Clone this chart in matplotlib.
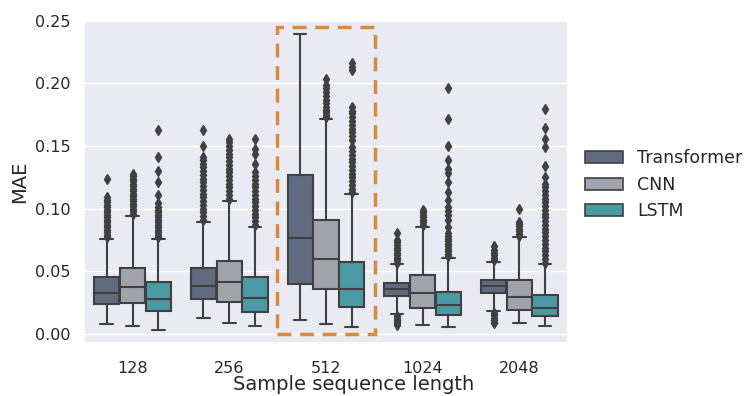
import matplotlib
matplotlib.use("Agg")
import matplotlib.pyplot as plt
import matplotlib.patches as mpatches
import seaborn as sns

sns.set_theme(style="darkgrid")
plt.rcParams['font.family'] = ['DejaVu Sans']

categories = ["128", "256", "512", "1024", "2048"]
models = ["Transformer", "CNN", "LSTM"]
colors = ["#606b80", "#a1a3ab", "#4b99a3"]

# box statistics per model, across the 5 sequence lengths
q1 = {
    "Transformer": [0.0239, 0.0279, 0.0401, 0.0305, 0.0325],
    "CNN":         [0.0250, 0.0255, 0.0355, 0.0207, 0.0191],
    "LSTM":        [0.0183, 0.0178, 0.0218, 0.0149, 0.0144],
}
med = {
    "Transformer": [0.0329, 0.0380, 0.0768, 0.0356, 0.0385],
    "CNN":         [0.0372, 0.0415, 0.0596, 0.0329, 0.0297],
    "LSTM":        [0.0279, 0.0287, 0.0361, 0.0234, 0.0210],
}
q3 = {
    "Transformer": [0.0451, 0.0526, 0.1268, 0.0409, 0.0431],
    "CNN":         [0.0529, 0.0585, 0.0909, 0.0468, 0.0433],
    "LSTM":        [0.0415, 0.0455, 0.0577, 0.0333, 0.0311],
}
whislo = {
    "Transformer": [0.0077, 0.0125, 0.0112, 0.0159, 0.0183],
    "CNN":         [0.0066, 0.0085, 0.0077, 0.0072, 0.0085],
    "LSTM":        [0.0034, 0.0064, 0.0053, 0.0053, 0.0066],
}
whishi = {
    "Transformer": [0.0759, 0.0891, 0.2392, 0.0558, 0.0577],
    "CNN":         [0.0941, 0.1061, 0.1715, 0.0856, 0.0771],
    "LSTM":        [0.0761, 0.0856, 0.1114, 0.0604, 0.0558],
}

fliers = {
    "Transformer": [
        [0.077, 0.079, 0.081, 0.083, 0.085, 0.087, 0.089, 0.091, 0.093, 0.095,
         0.097, 0.099, 0.101, 0.103, 0.105, 0.107, 0.109, 0.1235],
        [0.091, 0.094, 0.097, 0.100, 0.103, 0.106, 0.109, 0.112, 0.115, 0.118,
         0.121, 0.124, 0.127, 0.130, 0.133, 0.136, 0.139, 0.1414, 0.150, 0.1627],
        [],
        [0.057, 0.059, 0.061, 0.063, 0.065, 0.067, 0.069, 0.071, 0.073, 0.075,
         0.0803, 0.0145, 0.013, 0.0115, 0.010, 0.0085, 0.0072],
        [0.059, 0.061, 0.063, 0.065, 0.067, 0.0702,
         0.017, 0.015, 0.013, 0.011, 0.0095, 0.0085],
    ],
    "CNN": [
        [0.096, 0.098, 0.100, 0.102, 0.104, 0.106, 0.108, 0.110, 0.112, 0.114,
         0.116, 0.118, 0.120, 0.122, 0.124, 0.126, 0.128],
        [0.108, 0.111, 0.114, 0.117, 0.120, 0.123, 0.126, 0.129, 0.132, 0.135,
         0.138, 0.141, 0.144, 0.147, 0.150, 0.153, 0.1553],
        [0.173, 0.175, 0.177, 0.179, 0.181, 0.184, 0.187, 0.190, 0.193, 0.196,
         0.199, 0.2033],
        [0.087, 0.089, 0.091, 0.093, 0.095, 0.097, 0.0989],
        [0.078, 0.080, 0.082, 0.084, 0.086, 0.088, 0.0896, 0.0997],
    ],
    "LSTM": [
        [0.077, 0.079, 0.081, 0.083, 0.085, 0.087, 0.089, 0.091, 0.093, 0.095,
         0.097, 0.099, 0.1015, 0.1045, 0.1108, 0.1214, 0.130, 0.141, 0.1632],
        [0.087, 0.090, 0.093, 0.096, 0.099, 0.102, 0.105, 0.108, 0.111, 0.114,
         0.117, 0.120, 0.123, 0.126, 0.129, 0.136, 0.1435, 0.1475, 0.1553],
        [0.113, 0.116, 0.119, 0.122, 0.125, 0.128, 0.131, 0.134, 0.137, 0.140,
         0.143, 0.146, 0.149, 0.155, 0.158, 0.161, 0.164, 0.167, 0.170, 0.173,
         0.176, 0.178, 0.181, 0.2105, 0.213, 0.216],
        [0.062, 0.064, 0.066, 0.068, 0.070, 0.072, 0.074, 0.076, 0.078, 0.0803,
         0.0856, 0.0909, 0.095, 0.098, 0.1015, 0.1069, 0.1135, 0.1215, 0.1281,
         0.132, 0.1388, 0.150, 0.172, 0.196],
        [0.057, 0.060, 0.063, 0.066, 0.069, 0.072, 0.075, 0.078, 0.081, 0.084,
         0.087, 0.090, 0.093, 0.096, 0.099, 0.102, 0.105, 0.108, 0.111, 0.114,
         0.117, 0.120, 0.1254, 0.134, 0.1494, 0.1553, 0.1648, 0.1794],
    ],
}

highlight_group = "512"
highlight_top = 0.2448

fig = plt.figure(figsize=(7.45, 3.96), dpi=100)
ax = fig.add_axes([0.113, 0.134, 0.649, 0.815])

line_c = "#404040"
width = 0.8 / len(models)
for m_i, m in enumerate(models):
    stats = []
    positions = []
    for g_i in range(len(categories)):
        stats.append(dict(q1=q1[m][g_i], med=med[m][g_i], q3=q3[m][g_i],
                          whislo=whislo[m][g_i], whishi=whishi[m][g_i],
                          fliers=fliers[m][g_i]))
        positions.append(g_i + (m_i - 1) * width)
    ax.bxp(stats, positions=positions, widths=width * 0.98, patch_artist=True,
           showfliers=True,
           boxprops=dict(facecolor=colors[m_i], edgecolor=line_c, linewidth=1.5),
           medianprops=dict(color=line_c, linewidth=1.5),
           whiskerprops=dict(color=line_c, linewidth=1.5),
           capprops=dict(color=line_c, linewidth=1.5),
           flierprops=dict(marker="d", markerfacecolor=line_c,
                           markeredgecolor=line_c, markersize=5.5, linestyle="none"))

ax.set_xticks(range(len(categories)))
ax.set_xticklabels(categories)
ax.set_xlim(-0.5, len(categories) - 0.5)
ax.set_ylim(-0.0072, 0.2505)
ax.set_yticks([0.0, 0.05, 0.10, 0.15, 0.20, 0.25])
ax.set_yticklabels(["0.00", "0.05", "0.10", "0.15", "0.20", "0.25"])
ax.xaxis.grid(False)
ax.tick_params(axis="both", labelsize=11.5)
ax.tick_params(axis="x", pad=7)
ax.tick_params(axis="y", pad=4)
ax.set_xlabel("Sample sequence length", fontsize=14, labelpad=-1)
ax.xaxis.label.set_x(0.558)
ax.set_ylabel("MAE", fontsize=14, labelpad=4)

hi = categories.index(highlight_group)
rect = mpatches.Rectangle((hi - 0.51, 0.0), 1.02, highlight_top, fill=False,
                          edgecolor="#d98a3d", linewidth=2.5, linestyle=(0, (4, 2.5)),
                          zorder=5)
ax.add_patch(rect)

handles = [mpatches.Patch(facecolor=c, edgecolor=line_c, linewidth=1.2, label=m)
           for m, c in zip(models, colors)]
ax.legend(handles=handles, loc="center left", bbox_to_anchor=(1.003, 0.49),
          frameon=False, fontsize=12.5, handlelength=2.2, handletextpad=0.8)

fig.savefig("out.png", dpi=100)
